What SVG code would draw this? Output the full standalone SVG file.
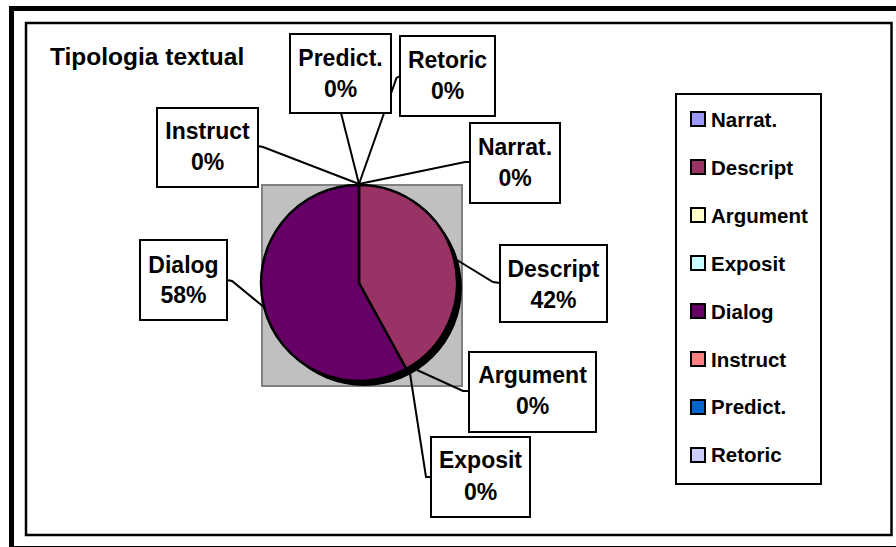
<svg xmlns="http://www.w3.org/2000/svg" width="896" height="547" viewBox="0 0 896 547">
  <style>
    text { font-family: "Liberation Sans", Arial, sans-serif; font-weight: bold; fill: #000; }
    .lbl { font-size: 23px; text-anchor: middle; }
    .leg { font-size: 20.5px; }
    .title { font-size: 24.5px; }
    .box { fill: #fff; stroke: #000; stroke-width: 2; }
    .lead { fill: none; stroke: #000; stroke-width: 2; }
    .sw { stroke: #000; stroke-width: 2; }
  </style>

  <!-- chart frames -->
  <rect x="0" y="0" width="896" height="547" fill="#fff"/>
  <rect x="11.5" y="8.5" width="900" height="540" fill="none" stroke="#000" stroke-width="5"/>
  <rect x="26" y="23" width="865.5" height="512" fill="none" stroke="#000" stroke-width="2.5"/>

  <text class="title" x="50" y="65">Tipologia textual</text>

  <!-- plot area -->
  <rect x="262" y="185" width="200" height="201" fill="#c0c0c0" stroke="#808080" stroke-width="2"/>

  <!-- pie -->
  <g id="pie">
    <circle cx="364" cy="288" r="98" fill="#000"/>
    <path id="slice-descript" d="M359,283 L359,185 A98,98 0 0,1 406.2,368.9 Z" fill="#993366" stroke="#000" stroke-width="2.5" stroke-linejoin="round"/>
    <path id="slice-dialog" d="M359,283 L406.2,368.9 A98,98 0 1,1 359,185 Z" fill="#660066" stroke="#000" stroke-width="2.5" stroke-linejoin="round"/>
  </g>

  <!-- leader lines -->
  <g id="connectors">
    <path class="lead" d="M258,146 L263,147 L359,184"/>
    <path class="lead" d="M341,113 L359,184"/>
    <path class="lead" d="M400,76 L396.5,78 L359,184"/>
    <path class="lead" d="M470,162 L465,162 L359,184"/>
    <path class="lead" d="M500,283 L493,282 L457,260"/>
    <path class="lead" d="M469,391 L463,391 L417,370"/>
    <path class="lead" d="M431,477 L426,477 L409,367"/>
    <path class="lead" d="M227,280 L232,281 L265,308"/>
  </g>

  <!-- data labels -->
  <g id="label-instruct">
    <rect class="box" x="157" y="108" width="101" height="79"/>
    <text class="lbl" x="207.5" y="139">Instruct</text>
    <text class="lbl" x="207.5" y="170">0%</text>
  </g>
  <g id="label-predict">
    <rect class="box" x="290" y="34" width="101" height="79"/>
    <text class="lbl" x="340.5" y="66">Predict.</text>
    <text class="lbl" x="340.5" y="97">0%</text>
  </g>
  <g id="label-retoric">
    <rect class="box" x="400" y="36" width="95" height="80"/>
    <text class="lbl" x="447.5" y="68">Retoric</text>
    <text class="lbl" x="447.5" y="99">0%</text>
  </g>
  <g id="label-narrat">
    <rect class="box" x="470" y="123" width="90" height="80"/>
    <text class="lbl" x="515" y="155">Narrat.</text>
    <text class="lbl" x="515" y="186">0%</text>
  </g>
  <g id="label-descript">
    <rect class="box" x="500" y="245" width="107" height="77"/>
    <text class="lbl" x="553.5" y="277">Descript</text>
    <text class="lbl" x="553.5" y="308">42%</text>
  </g>
  <g id="label-argument">
    <rect class="box" x="469" y="352" width="127" height="80"/>
    <text class="lbl" x="532.5" y="383">Argument</text>
    <text class="lbl" x="532.5" y="414">0%</text>
  </g>
  <g id="label-exposit">
    <rect class="box" x="431" y="437" width="99" height="80"/>
    <text class="lbl" x="480.5" y="468">Exposit</text>
    <text class="lbl" x="480.5" y="500">0%</text>
  </g>
  <g id="label-dialog">
    <rect class="box" x="140" y="240" width="87" height="80"/>
    <text class="lbl" x="183.5" y="273">Dialog</text>
    <text class="lbl" x="183.5" y="303">58%</text>
  </g>

  <!-- legend -->
  <g id="legend">
    <rect class="box" x="676" y="94" width="145" height="390"/>
    <rect class="sw" x="691" y="112" width="14" height="14" fill="#9999ff"/>
    <text class="leg" x="711" y="127">Narrat.</text>
    <rect class="sw" x="691" y="160" width="14" height="14" fill="#993366"/>
    <text class="leg" x="711" y="175">Descript</text>
    <rect class="sw" x="691" y="208" width="14" height="14" fill="#ffffcc"/>
    <text class="leg" x="711" y="223">Argument</text>
    <rect class="sw" x="691" y="256" width="14" height="14" fill="#ccffff"/>
    <text class="leg" x="711" y="271">Exposit</text>
    <rect class="sw" x="691" y="304" width="14" height="14" fill="#660066"/>
    <text class="leg" x="711" y="319">Dialog</text>
    <rect class="sw" x="691" y="352" width="14" height="14" fill="#ff8080"/>
    <text class="leg" x="711" y="367">Instruct</text>
    <rect class="sw" x="691" y="400" width="14" height="14" fill="#0066cc"/>
    <text class="leg" x="711" y="414">Predict.</text>
    <rect class="sw" x="691" y="448" width="14" height="14" fill="#ccccff"/>
    <text class="leg" x="711" y="462">Retoric</text>
  </g>
</svg>
